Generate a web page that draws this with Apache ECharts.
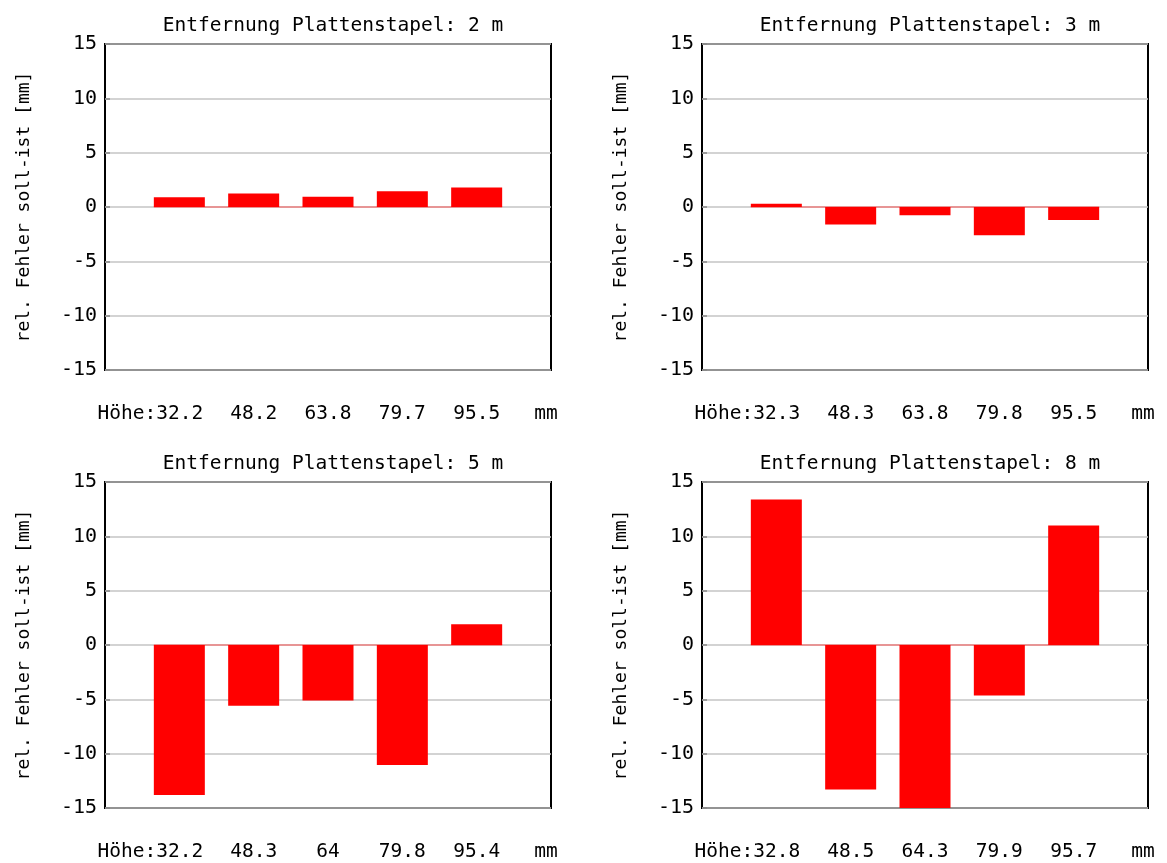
<!DOCTYPE html>
<html>
<head>
<meta charset="utf-8">
<script src="https://cdn.jsdelivr.net/npm/echarts@6/dist/echarts.min.js"></script>
<style>
  html, body { margin: 0; padding: 0; background: #fff; }
  #chart { width: 1167px; height: 863px; }
</style>
</head>
<body>
<div id="chart"></div>
<script>
// Distance of the plate stack for each panel [m]
const distances = [2, 3, 5, 8];

// Measured stack heights per panel [mm]
const heights2 = ['32.2', '48.2', '63.8', '79.7', '95.5'];
const heights3 = ['32.3', '48.3', '63.8', '79.8', '95.5'];
const heights5 = ['32.2', '48.3', '64', '79.8', '95.4'];
const heights8 = ['32.8', '48.5', '64.3', '79.9', '95.7'];

// Relative error (nominal - actual) per panel [mm]
const err2 = [0.9, 1.25, 0.95, 1.45, 1.8];
const err3 = [0.3, -1.6, -0.75, -2.6, -1.2];
const err5 = [-13.8, -5.6, -5.1, -11.05, 1.9];
const err8 = [13.4, -13.3, -15.0, -4.65, 11.0];

// Value axis range and tick step
const yMin = -15, yMax = 15, yStep = 5;

const heightSets = [heights2, heights3, heights5, heights8];
const errSets = [err2, err3, err5, err8];

const FONT = 'DejaVu Sans Mono';
const panelLeft = [105, 702];
const panelTop = [44, 482];
const panelW = 446, panelH = 326;
const barW = 51;

const chart = echarts.init(document.getElementById('chart'), null, { renderer: 'canvas' });

const grids = [], xAxes = [], yAxes = [], series = [], titles = [];

distances.forEach((d, i) => {
  const col = i % 2, row = Math.floor(i / 2);
  const left = panelLeft[col], top = panelTop[row];
  const hs = heightSets[i];
  const n = hs.length;
  // half bar width expressed in x-axis units (x runs 0 .. n+1)
  const halfBar = (barW / 2) / (panelW / (n + 1));

  grids.push({
    left: left, top: top, width: panelW, height: panelH,
    show: true, borderColor: '#000', borderWidth: 2, backgroundColor: '#fff'
  });

  titles.push({
    text: 'Entfernung Plattenstapel: ' + d + ' m',
    left: left + panelW / 2,
    top: top - 33,
    textAlign: 'center',
    textStyle: { fontFamily: FONT, fontSize: 19.5, fontWeight: 'normal', color: '#000' }
  });

  xAxes.push({
    gridIndex: i, type: 'value', min: 0, max: n + 1, interval: 1,
    axisLine: { show: false }, axisTick: { show: false }, splitLine: { show: false },
    axisLabel: {
      show: true, margin: 34, color: '#000', fontFamily: FONT, fontSize: 19.5,
      showMinLabel: true, showMaxLabel: true,
      formatter: function (v) {
        if (v === 0) return '';
        if (v === n + 1) return '{u|mm}';
        if (v === 1) return '{h|Höhe:}{n|' + hs[0] + '}{p| }';
        return hs[v - 1];
      },
      rich: {
        h: { fontFamily: FONT, fontSize: 19.5, color: '#000' },
        n: { fontFamily: FONT, fontSize: 19.5, color: '#000' },
        p: { fontFamily: FONT, fontSize: 19.5, width: 58 },
        u: { fontFamily: FONT, fontSize: 19.5, color: '#000', padding: [0, 10, 0, 0] }
      }
    }
  });

  yAxes.push({
    gridIndex: i, type: 'value', min: yMin, max: yMax, interval: yStep,
    name: 'rel. Fehler soll-ist [mm]',
    nameLocation: 'middle', nameRotate: 90, nameGap: 72,
    nameTextStyle: { fontFamily: FONT, fontSize: 18, color: '#000' },
    axisLine: { show: false },
    axisTick: { show: true, inside: true, length: 5, lineStyle: { color: '#888', width: 1.5 } },
    splitLine: { show: true, lineStyle: { color: '#c4c4c4', width: 1.5 } },
    axisLabel: { margin: 8, color: '#000', fontFamily: FONT, fontSize: 20 }
  });

  series.push({
    type: 'bar',
    xAxisIndex: i, yAxisIndex: i,
    barWidth: barW,
    itemStyle: { color: '#ff0000' },
    data: errSets[i].map((v, k) => [k + 1, v]),
    silent: true,
    markLine: {
      silent: true, symbol: 'none', label: { show: false },
      lineStyle: { color: '#ee8080', width: 1.5, type: 'solid' },
      data: [[{ coord: [1 - halfBar, 0] }, { coord: [n + halfBar, 0] }]],
      z: 1
    }
  });
});

chart.setOption({
  backgroundColor: '#fff',
  animation: false,
  title: titles,
  grid: grids,
  xAxis: xAxes,
  yAxis: yAxes,
  series: series
});
</script>
</body>
</html>
